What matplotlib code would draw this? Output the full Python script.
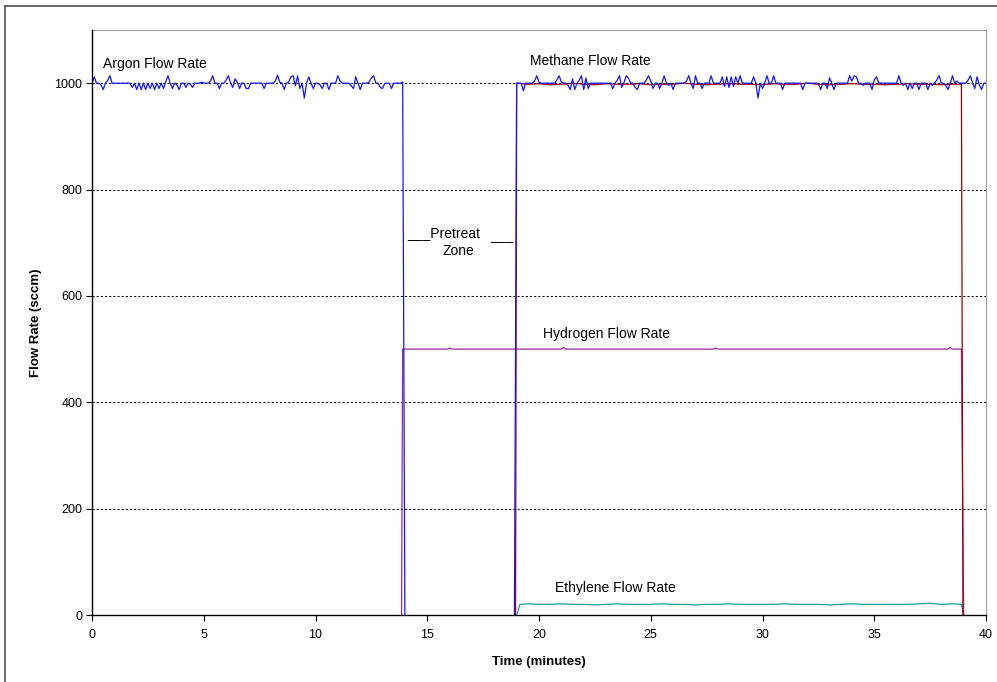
import numpy as np
import matplotlib.pyplot as plt
from matplotlib.lines import Line2D

plt.rcParams['font.family'] = ['Liberation Sans', 'DejaVu Sans']

# Argon / methane MFC reading (blue): deviations from 1000 sccm, one sample every 0.1 min
argon_dev_1 = [0, 12, 0, 0, -3, -12, 0, 5, 14, 0,
               0, 0, 0, 0, 0, 0, 0, 0, -8, 0,
               -12, 0, -12, 0, -12, 0, -10, 0, -12, 0,
               -10, 0, -10, 3, 14, 0, -10, 0, -3, -12,
               0, 0, -8, 0, -2, -8, 0, 0, 0, 2,
               0, 0, 0, 4, 14, 0, 0, -10, 0, 0,
               6, 14, 0, -8, 8, 2, -10, 0, 0, -10,
               -10, 0, 0, 0, 0, 0, 0, -10, 0, 0,
               0, 0, 4, 15, 2, 0, -12, 0, 2, 12,
               14, -5, 14, -10, 0, -28, 0, 12, 0, -10,
               0, 0, -3, -10, 0, 0, -12, 0, 0, 0,
               14, 4, 0, 0, 0, 0, -5, -10, 12, 0,
               -12, 0, 0, 0, 2, 10, 14, 0, 0, -8,
               -10, 0, 0, 0, -10, 0, 0, 0, 0, 2]
argon_dev_2 = [0, 0, 0, -14, 0, 0, 0, 0, 4, 14,
               2, 0, 0, 0, 0, 0, 0, 0, 6, 14,
               2, 0, 0, -4, -12, 8, -12, 0, 6, 14,
               -12, 10, -10, 0, 0, 0, 0, 0, 0, 0,
               0, 0, 0, -10, 0, 6, 14, -8, 0, 14,
               10, 0, 0, -8, -12, 0, 0, 0, 6, 14,
               4, -10, 0, 0, -10, 0, 14, 0, -4, 0,
               -12, 0, 0, 0, 0, 0, 4, 14, 0, -10,
               14, 0, 0, -10, 0, 0, 0, 14, 0, 0,
               0, 0, 12, -6, 12, -8, 12, -6, 12, 0,
               14, 0, 0, 0, 0, 0, 12, 0, -28, 0,
               -10, 0, 14, 0, 0, 14, 0, 0, 0, -12,
               0, 0, 0, 0, 0, 0, 0, 0, -12, 0,
               0, 0, 0, 0, 0, 0, -12, 0, 0, -10,
               10, 0, -12, 0, 0, 0, 0, 0, 0, 14,
               4, 14, 12, 0, 0, -4, 0, 0, 0, -12,
               6, 12, 0, 0, 0, 0, 0, 0, 0, 0,
               0, 14, 0, -4, 0, -12, 0, -10, 0, 0,
               -12, 0, 0, 0, -12, 0, -4, 0, 6, 14,
               0, 0, -4, -12, 0, 14, 0, 4, 0, 0,
               0, 0, 6, 14, 0, -10, 12, -3, -12, 0,
               0]

# Methane (dark red), 0.5 min samples between 19.5 and 38.5
methane_vals = [998, 999, 997, 998, 1000, 998, 997, 999, 998, 998,
                999, 997, 998, 998, 1000, 998, 997, 998, 999, 998,
                998, 997, 999, 998, 998, 1000, 998, 997, 998, 999,
                998, 998, 997, 998, 999, 998, 998, 997, 998]

# Ethylene (teal), 0.5 min samples between 19.5 and 38.5
ethylene_vals = [21, 20, 20, 21, 20, 20, 19, 20, 21, 20,
                 20, 20, 21, 20, 20, 19, 20, 20, 21, 20,
                 20, 20, 20, 21, 20, 20, 20, 19, 20, 21,
                 20, 20, 20, 20, 20, 21, 22, 20, 21]

# Hydrogen (purple) breakpoints
hydrogen_t = [13.85, 13.9, 15.9, 16.0, 16.1, 21.0, 21.1, 21.2,
              27.8, 27.9, 28.0, 38.3, 38.4, 38.5, 38.9, 39.0]
hydrogen_vals = [0, 500, 500, 502, 500, 500, 503, 500,
                 500, 502, 500, 500, 503, 500, 500, 0]

x_ticks = [0, 5, 10, 15, 20, 25, 30, 35, 40]
y_ticks = [0, 200, 400, 600, 800, 1000]

# time grids
t1 = np.round(np.arange(0, 13.95, 0.1), 1)
t2 = np.round(np.arange(19.0, 40.05, 0.1), 1)
t_half = np.arange(19.5, 38.6, 0.5)

# blue drops to zero at 14 min and comes back at 19 min (gap keeps the axis clean)
argon_t = np.concatenate([t1, [14.0, np.nan, 18.9], t2])
argon_vals = np.concatenate([1000 + np.array(argon_dev_1), [0, np.nan, 0],
                             1000 + np.array(argon_dev_2)])

methane_t = np.concatenate([[18.95, 19.0], t_half, [38.9, 38.97]])
methane_y = np.concatenate([[0, 1000], methane_vals, [998, 0]])

ethylene_t = np.concatenate([[19.0, 19.15], t_half, [38.9, 39.0]])
ethylene_y = np.concatenate([[0, 20], ethylene_vals, [20, 0]])

fig = plt.figure(figsize=(9.97, 6.82), dpi=100)
ax = fig.add_axes([92 / 997, 1 - 615 / 682, 894 / 997, 585 / 682])

ax.plot(ethylene_t, ethylene_y, color='#199c9c', lw=0.9, zorder=2.0)
ax.plot(hydrogen_t, hydrogen_vals, color='#9a2a9a', lw=0.9, zorder=2.0)
ax.plot(methane_t, methane_y, color='#a00000', lw=0.9, zorder=2.1)
ax.plot(argon_t, argon_vals, color='#1515ff', lw=0.9, zorder=2.2)

ax.set_xlim(0, 40)
ax.set_ylim(0, 1100)
ax.set_xticks(x_ticks)
ax.set_yticks(y_ticks)
ax.tick_params(direction='out', length=4, width=0.8, labelsize=9)
ax.tick_params(axis='x', pad=6)
ax.tick_params(axis='y', pad=3)

# dashed horizontal gridlines
ax.yaxis.grid(True, color='black', linestyle=(0, (2, 2)), lw=0.75)
ax.set_axisbelow(True)

for side in ['top', 'right']:
    ax.spines[side].set_color('#9a9a9a')
for side in ['left', 'bottom']:
    ax.spines[side].set_color('black')
    ax.spines[side].set_linewidth(1.0)
    ax.spines[side].set_zorder(3)

ax.set_xlabel('Time (minutes)', fontsize=9.5, fontweight='bold', labelpad=11)
ax.set_ylabel('Flow Rate (sccm)', fontsize=9.5, fontweight='bold', labelpad=9)

# series labels
ax.text(0.5, 1036, 'Argon Flow Rate', fontsize=10, va='center')
ax.text(19.6, 1041, 'Methane Flow Rate', fontsize=10, va='center')
ax.text(20.2, 529, 'Hydrogen Flow Rate', fontsize=10, va='center')
ax.text(20.7, 51, 'Ethylene Flow Rate', fontsize=10, va='center')
ax.text(14.1, 710, '___Pretreat', fontsize=10, va='baseline')
ax.text(16.4, 677, 'Zone', fontsize=10, va='baseline', ha='center')
ax.text(17.8, 705, '___', fontsize=10, va='baseline')

# outer chart border
fig.add_artist(Line2D([5 / 997, 5 / 997], [0, 1 - 6 / 682], color='#505050', lw=1.2))
fig.add_artist(Line2D([5 / 997, 1], [1 - 6 / 682, 1 - 6 / 682], color='#505050', lw=1.2))

plt.savefig('out.png', dpi=100)
